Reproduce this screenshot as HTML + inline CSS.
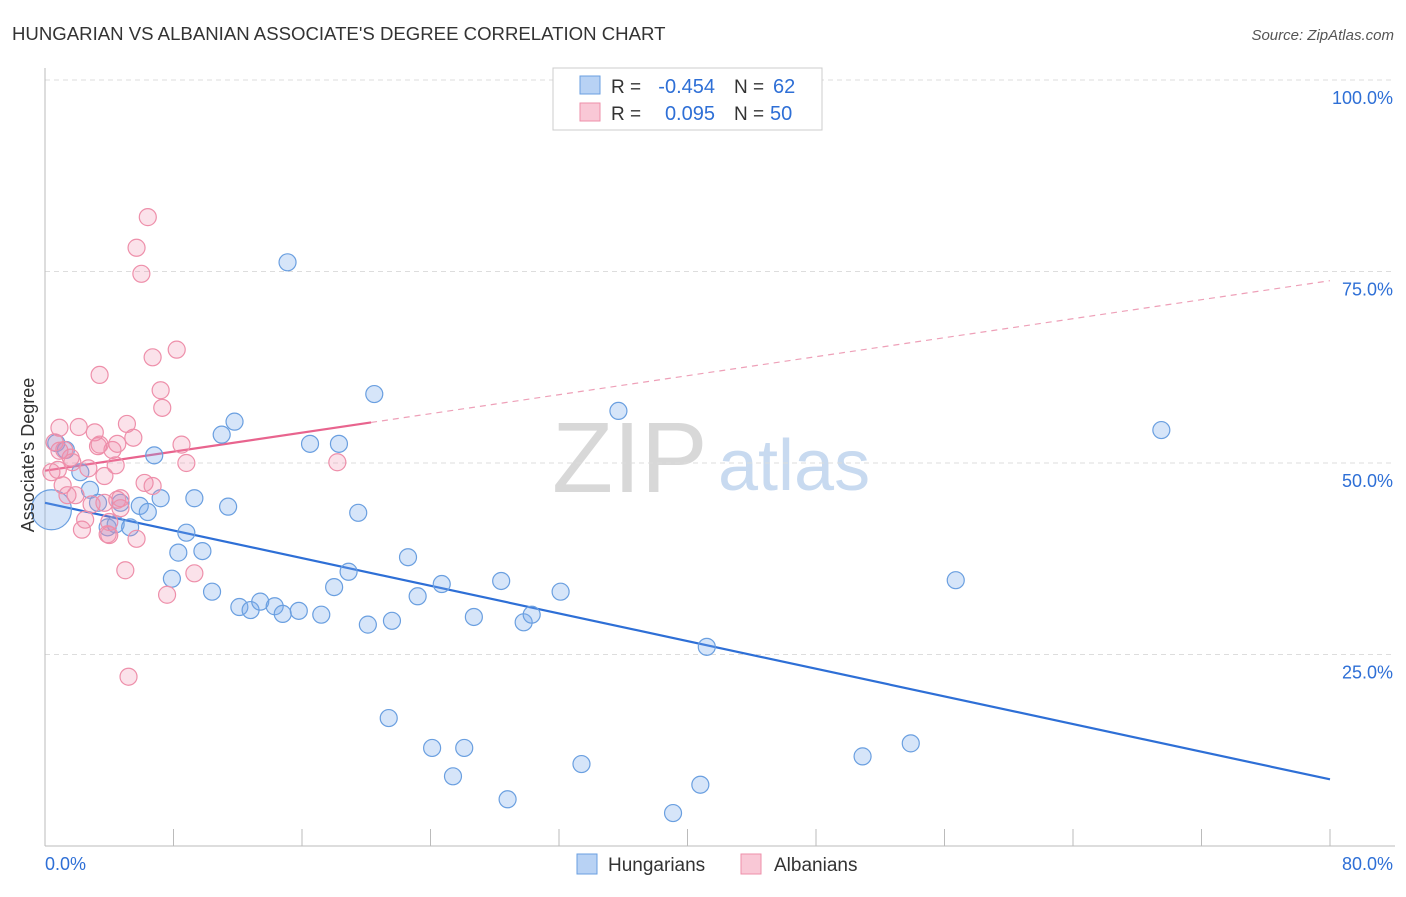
<!DOCTYPE html>
<html><head><meta charset="utf-8"><style>
body{margin:0;background:#fff;font-family:"Liberation Sans",sans-serif}
svg text{font-family:"Liberation Sans",sans-serif}
</style></head><body>
<svg id="c" width="1406" height="892">
<text x="12" y="40" font-size="18.6" fill="#333">HUNGARIAN VS ALBANIAN ASSOCIATE'S DEGREE CORRELATION CHART</text>
<text x="1394" y="40" font-size="15" fill="#555" font-style="italic" text-anchor="end">Source: ZipAtlas.com</text>
<g>
<text x="552" y="492" font-size="100" fill="#d8d8d8" font-family="Liberation Serif,serif">ZIP</text>
<text x="718" y="490" font-size="72" fill="#c8daf0">atlas</text>
</g>
<g id="grid"></g><g id="axes"></g><g id="lines"></g><g id="pts"></g>
<text transform="translate(34,455) rotate(-90)" font-size="18" fill="#333" text-anchor="middle">Associate's Degree</text>
<g>
<rect x="553" y="68" width="269" height="62" fill="#fff" stroke="#ccc"/>
<rect x="580" y="76" width="20" height="18" fill="#b8d2f4" stroke="#6a9fe0"/>
<rect x="580" y="103" width="20" height="18" fill="#f9c8d6" stroke="#ee8faa"/>
<text x="611" y="93" font-size="19" fill="#333">R =</text>
<text x="715" y="93" font-size="20" fill="#2e6fd6" text-anchor="end">-0.454</text>
<text x="734" y="93" font-size="19" fill="#333">N =</text>
<text x="773" y="93" font-size="20" fill="#2e6fd6">62</text>
<text x="611" y="120" font-size="19" fill="#333">R =</text>
<text x="715" y="120" font-size="20" fill="#2e6fd6" text-anchor="end">0.095</text>
<text x="734" y="120" font-size="19" fill="#333">N =</text>
<text x="770" y="120" font-size="20" fill="#2e6fd6">50</text>
</g>
<g>
<rect x="577" y="854" width="20" height="20" fill="#b8d2f4" stroke="#6a9fe0"/>
<text x="608" y="871" font-size="19" fill="#333">Hungarians</text>
<rect x="741" y="854" width="20" height="20" fill="#f9c8d6" stroke="#ee8faa"/>
<text x="774" y="871" font-size="19" fill="#333">Albanians</text>
</g>
</svg>
<script>
const blueX=[0.7,1.3,2.2,2.8,3.3,3.9,4.4,5.3,4.7,5.9,6.4,6.8,7.2,8.3,8.8,9.3,9.8,10.4,11.0,11.4,11.8,12.1,12.8,13.4,14.3,14.8,15.1,15.8,16.5,17.2,18.0,18.3,18.9,19.5,20.1,20.5,21.4,21.6,22.6,23.2,24.1,24.7,25.4,26.1,26.7,28.4,28.8,29.8,30.3,32.1,33.4,35.7,39.1,40.8,41.2,50.9,53.9,56.7,69.5,7.9];
const blueY=[52.6,51.7,48.8,46.5,44.8,41.6,42.0,41.6,44.8,44.4,43.6,51.0,45.4,38.3,40.9,45.4,38.5,33.2,53.7,44.3,55.4,31.2,30.8,31.9,31.3,30.3,76.2,30.7,52.5,30.2,33.8,52.5,35.8,43.5,28.9,59.0,16.7,29.4,37.7,32.6,12.8,34.2,9.1,12.8,29.9,34.6,6.1,29.2,30.2,33.2,10.7,56.8,4.3,8.0,26.0,11.7,13.4,34.7,54.3,34.9];
const pinkX=[0.4,0.6,0.9,1.1,1.6,2.1,1.9,2.3,2.5,2.7,3.1,3.3,3.4,3.7,3.9,4.0,4.4,4.2,4.5,4.7,5.0,5.1,5.2,5.5,5.7,5.7,6.0,6.4,6.2,6.7,6.7,7.2,7.3,7.6,8.2,8.5,8.8,9.3,18.2,0.9,1.4,2.9,4.0,4.7,0.8,1.7,3.4,3.7,4.5,1.2];
const pinkY=[48.8,52.7,54.6,47.1,50.7,54.7,45.8,41.3,42.6,49.3,54.0,52.2,61.5,44.8,40.7,42.3,49.7,51.7,45.2,44.1,36.0,55.1,22.1,53.3,40.1,78.1,74.7,82.1,47.4,63.8,47.0,59.5,57.2,32.8,64.8,52.4,50.0,35.6,50.1,51.6,45.8,44.6,40.6,45.4,49.1,50.1,52.4,48.3,52.5,51.7];
const bigBlue=[0.4,43.9];
const blueTrend=[44.8,8.7];
const pinkTrend=[49.0,73.8];
const pinkSolidEnd=20.3;
const yTicks=[25,50,75,100];
const xTickVals=[0,8,16,24,32,40,48,56,64,72,80];
const NS="http://www.w3.org/2000/svg";
const sx=v=>45+v/80*1285, sy=v=>846-v/100*766;
function mk(t,a,p){const e=document.createElementNS(NS,t);for(const k in a)e.setAttribute(k,a[k]);p.appendChild(e);return e;}
const grid=document.getElementById('grid'),axes=document.getElementById('axes'),lines=document.getElementById('lines'),pts=document.getElementById('pts');
yTicks.forEach(v=>{
 const l=mk('line',{x1:45,x2:1395,y1:sy(v),y2:sy(v),stroke:'#ddd','stroke-dasharray':'5,4'},grid);
 
 
 const t=mk('text',{x:1393,y:sy(v)+24,'font-size':18,fill:'#2e6fd6','text-anchor':'end'},grid);t.textContent=v.toFixed(1)+'%';
 
 
});
mk('line',{x1:45,x2:45,y1:68,y2:846,stroke:'#bbb'},axes);
mk('line',{x1:45,x2:1395,y1:846,y2:846,stroke:'#bbb'},axes);
xTickVals.forEach(v=>{const l=mk('line',{x1:sx(v),x2:sx(v),y1:829,y2:846,stroke:'#bbb'},axes);
 
 });
const t0=mk('text',{x:45,y:870,'font-size':18,fill:'#2e6fd6'},axes);t0.textContent='0.0%';


const t1=mk('text',{x:1393,y:870,'font-size':18,fill:'#2e6fd6','text-anchor':'end'},axes);t1.textContent='80.0%';


function dot(x,y,r,fill,stroke,name){const c=mk('circle',{cx:sx(x),cy:sy(y),r:r,fill:fill,stroke:stroke,'stroke-width':1.2},pts);
 
 }
blueX.forEach((x,i)=>dot(x,blueY[i],8.5,'rgba(120,170,235,0.3)','#6a9fe0','hungarian-point'));
dot(bigBlue[0],bigBlue[1],20,'rgba(120,170,235,0.3)','#6a9fe0','hungarian-point-large');
pinkX.forEach((x,i)=>dot(x,pinkY[i],8.5,'rgba(240,140,170,0.25)','#ee8faa','albanian-point'));
const bl=mk('line',{x1:sx(0),y1:sy(blueTrend[0]),x2:sx(80),y2:sy(blueTrend[1]),stroke:'#2e6fd6','stroke-width':2.2},lines);


const py=x=>pinkTrend[0]+(pinkTrend[1]-pinkTrend[0])*x/80;
const pl=mk('line',{x1:sx(0),y1:sy(py(0)),x2:sx(pinkSolidEnd),y2:sy(py(pinkSolidEnd)),stroke:'#e8648e','stroke-width':2.2},lines);


const pd=mk('line',{x1:sx(pinkSolidEnd),y1:sy(py(pinkSolidEnd)),x2:sx(80),y2:sy(py(80)),stroke:'#eea0b8','stroke-width':1.2,'stroke-dasharray':'6,5'},lines);


</script>
</body></html>
